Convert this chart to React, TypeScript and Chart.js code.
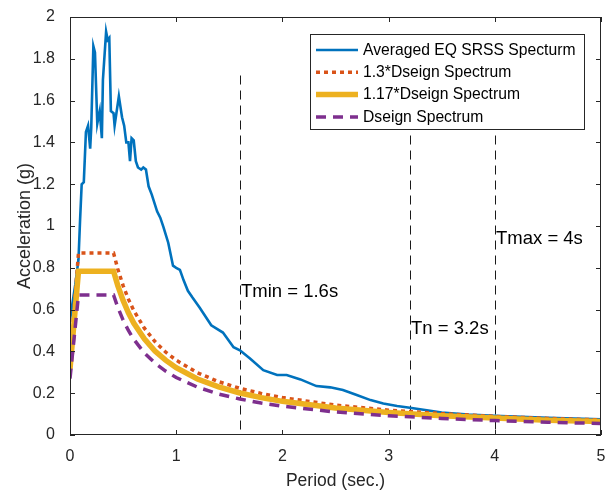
import React, { useEffect, useRef } from "react";
import { Chart, registerables } from "chart.js";

Chart.register(...registerables);

const FONT = '"Liberation Sans", Arial, Helvetica, sans-serif';
const AXIS_COLOR = "#262626";

// ---- data ----
const seriesNames = [
  "Averaged EQ SRSS Specturm",
  "1.3*Dseign Spectrum",
  "1.17*Dseign Spectrum",
  "Dseign Spectrum",
];

const srssPeriods = [
  0, 0.02, 0.05, 0.08, 0.095, 0.11, 0.13, 0.15, 0.17, 0.19, 0.2, 0.22, 0.235,
  0.257, 0.28, 0.3, 0.31, 0.34, 0.355, 0.37, 0.385, 0.41, 0.42, 0.46, 0.49,
  0.51, 0.53, 0.55, 0.565, 0.58, 0.6, 0.62, 0.64, 0.67, 0.69, 0.715, 0.74,
  0.77, 0.82, 0.85, 0.88, 0.925, 0.97, 1.0, 1.035, 1.07, 1.11, 1.15, 1.22,
  1.33, 1.44, 1.54, 1.6, 1.695, 1.82, 1.95, 2.04, 2.17, 2.32, 2.45, 2.57,
  2.7, 2.83, 2.95, 3.08, 3.2, 3.36, 3.5, 3.75, 4.0, 4.5, 5.0,
];
const srssValues = [
  0.55, 0.62, 0.72, 0.84, 1.03, 1.2, 1.21, 1.45, 1.48, 1.37, 1.47, 1.86, 1.83,
  1.49, 1.55, 1.42, 1.7, 1.93, 1.89, 1.9, 1.55, 1.54, 1.48, 1.62, 1.52, 1.48,
  1.4, 1.4, 1.31, 1.42, 1.41, 1.31, 1.28, 1.27, 1.28, 1.27, 1.19, 1.15, 1.07,
  1.04, 0.995, 0.92, 0.81, 0.8, 0.79, 0.74, 0.69, 0.66, 0.61, 0.525, 0.49,
  0.42, 0.405, 0.366, 0.31, 0.287, 0.287, 0.266, 0.234, 0.228, 0.215, 0.191,
  0.167, 0.151, 0.139, 0.13, 0.118, 0.108, 0.098, 0.092, 0.082, 0.075,
];

const designPeriods = [
  0, 0.08, 0.41, 0.45, 0.5, 0.55, 0.6, 0.7, 0.8, 0.9, 1.0, 1.2, 1.4, 1.6, 1.8,
  2.0, 2.5, 3.0, 3.5, 4.0, 4.5, 5.0,
];
const design130 = [
  0.351, 0.871, 0.871, 0.794, 0.715, 0.65, 0.596, 0.511, 0.447, 0.397, 0.358,
  0.298, 0.255, 0.223, 0.199, 0.179, 0.143, 0.119, 0.102, 0.089, 0.079, 0.072,
];
const design117 = [
  0.316, 0.784, 0.784, 0.715, 0.644, 0.585, 0.536, 0.46, 0.402, 0.358, 0.322,
  0.268, 0.23, 0.201, 0.179, 0.161, 0.129, 0.108, 0.092, 0.081, 0.071, 0.064,
];
const designBase = [
  0.27, 0.67, 0.67, 0.611, 0.55, 0.5, 0.458, 0.393, 0.344, 0.306, 0.275, 0.229,
  0.196, 0.172, 0.153, 0.138, 0.11, 0.092, 0.079, 0.069, 0.061, 0.055,
];

const markerPeriods = [1.6, 3.2, 4.0];
const markerTop = 1.72;
const markerLabels = ["Tmin = 1.6s", "Tn = 3.2s", "Tmax = 4s"];
const markerLabelValues = [0.685, 0.51, 0.94];

const xTickValues = [0, 1, 2, 3, 4, 5];
const xTickLabels = ["0", "1", "2", "3", "4", "5"];
const yTickValues = [0, 0.2, 0.4, 0.6, 0.8, 1, 1.2, 1.4, 1.6, 1.8, 2];
const yTickLabels = ["0", "0.2", "0.4", "0.6", "0.8", "1", "1.2", "1.4", "1.6", "1.8", "2"];

const toXY = (xs: number[], ys: number[]) => xs.map((x, i) => ({ x, y: ys[i] }));

export default function App() {
  const ref = useRef<HTMLCanvasElement>(null);

  useEffect(() => {
    document.body.style.margin = "0";
    const canvas = ref.current!;

    const curves: any[] = [
      { label: seriesNames[0], data: toXY(srssPeriods, srssValues), borderColor: "#0072BD", borderWidth: 2.6, order: 4 },
      { label: seriesNames[1], data: toXY(designPeriods, design130), borderColor: "#D95319", borderWidth: 3.5, borderDash: [4, 4], order: 3 },
      { label: seriesNames[2], data: toXY(designPeriods, design117), borderColor: "#EDB120", borderWidth: 5.5, order: 2 },
      { label: seriesNames[3], data: toXY(designPeriods, designBase), borderColor: "#7E2F8E", borderWidth: 3.5, borderDash: [10, 7], order: 1 },
    ];

    const frame = {
      id: "frame",
      beforeDatasetsDraw(chart: any) {
        const { ctx, scales } = chart;
        const xs = scales.x;
        const ys = scales.y;
        ctx.save();
        ctx.strokeStyle = "#1a1a1a";
        ctx.lineWidth = 1;
        ctx.setLineDash([9, 6]);
        markerPeriods.forEach((t) => {
          const px = Math.round(xs.getPixelForValue(t)) + 0.5;
          ctx.beginPath();
          ctx.moveTo(px, ys.getPixelForValue(markerTop));
          ctx.lineTo(px, ys.getPixelForValue(0));
          ctx.stroke();
        });
        ctx.restore();
      },
      afterDatasetsDraw(chart: any) {
        const { ctx, chartArea, scales } = chart;
        const { left, right, top, bottom } = chartArea;
        const xs = scales.x;
        const ys = scales.y;
        ctx.save();
        ctx.setLineDash([]);
        ctx.strokeStyle = AXIS_COLOR;
        ctx.lineWidth = 1;
        ctx.strokeRect(left + 0.5, top + 0.5, right - left - 1, bottom - top - 1);
        ctx.beginPath();
        xTickValues.forEach((v) => {
          const px = Math.round(xs.getPixelForValue(v)) + 0.5;
          ctx.moveTo(px, bottom);
          ctx.lineTo(px, bottom - 5);
          ctx.moveTo(px, top);
          ctx.lineTo(px, top + 5);
        });
        yTickValues.forEach((v) => {
          const py = Math.round(ys.getPixelForValue(v)) + 0.5;
          ctx.moveTo(left, py);
          ctx.lineTo(left + 5, py);
          ctx.moveTo(right, py);
          ctx.lineTo(right - 5, py);
        });
        ctx.stroke();

        // annotations
        ctx.fillStyle = "#000";
        ctx.font = `18.5px ${FONT}`;
        ctx.textAlign = "left";
        ctx.textBaseline = "middle";
        markerPeriods.forEach((t, i) => {
          ctx.fillText(markerLabels[i], Math.round(xs.getPixelForValue(t)) + 1, ys.getPixelForValue(markerLabelValues[i]));
        });

        // legend
        const lx = 310, ly = 34, lw = 274, lh = 95;
        ctx.fillStyle = "#fff";
        ctx.fillRect(lx, ly, lw, lh);
        ctx.strokeStyle = AXIS_COLOR;
        ctx.lineWidth = 1;
        ctx.strokeRect(lx + 0.5, ly + 0.5, lw, lh);
        ctx.font = `15.7px ${FONT}`;
        curves.forEach((c, i) => {
          const yy = ly + 16 + i * 22.3;
          ctx.beginPath();
          ctx.strokeStyle = c.borderColor;
          ctx.lineWidth = c.borderWidth;
          ctx.setLineDash(c.borderDash || []);
          ctx.moveTo(316, yy);
          ctx.lineTo(358, yy);
          ctx.stroke();
          ctx.setLineDash([]);
          ctx.fillStyle = "#000";
          ctx.fillText(c.label, 363, yy + 0.5);
        });
        ctx.restore();
      },
    };

    const chart = new Chart(canvas, {
      type: "line",
      data: { datasets: curves },
      options: {
        animation: false,
        responsive: false,
        devicePixelRatio: 1,
        elements: { point: { radius: 0 }, line: { tension: 0, fill: false } },
        layout: { padding: { top: 17, right: 15, left: 0, bottom: 0 } },
        plugins: { legend: { display: false }, tooltip: { enabled: false } },
        scales: {
          x: {
            type: "linear",
            min: 0,
            max: 5,
            afterFit: (s: any) => { s.height = 58; },
            afterBuildTicks: (s: any) => { s.ticks = xTickValues.map((v) => ({ value: v })); },
            grid: { display: false },
            border: { display: false },
            ticks: {
              font: { family: FONT, size: 16 },
              color: AXIS_COLOR,
              padding: 4,
              maxRotation: 0,
              callback: (_v: any, i: number) => xTickLabels[i],
            },
            title: {
              display: true,
              text: "Period (sec.)",
              font: { family: FONT, size: 17.5 },
              color: AXIS_COLOR,
              padding: { top: 0, bottom: 1 },
            },
          },
          y: {
            type: "linear",
            min: 0,
            max: 2,
            afterFit: (s: any) => { s.width = 70; },
            afterBuildTicks: (s: any) => { s.ticks = yTickValues.map((v) => ({ value: v })); },
            grid: { display: false },
            border: { display: false },
            ticks: {
              font: { family: FONT, size: 16 },
              color: AXIS_COLOR,
              padding: 7,
              callback: (_v: any, i: number) => yTickLabels[i],
            },
            title: {
              display: true,
              text: "Acceleration (g)",
              font: { family: FONT, size: 18 },
              color: AXIS_COLOR,
              padding: { top: 14, bottom: 0 },
            },
          },
        },
      },
      plugins: [frame],
    } as any);

    return () => chart.destroy();
  }, []);

  return (
    <div style={{ width: 616, height: 493 }}>
      <canvas ref={ref} width={616} height={493} style={{ display: "block" }} />
    </div>
  );
}
